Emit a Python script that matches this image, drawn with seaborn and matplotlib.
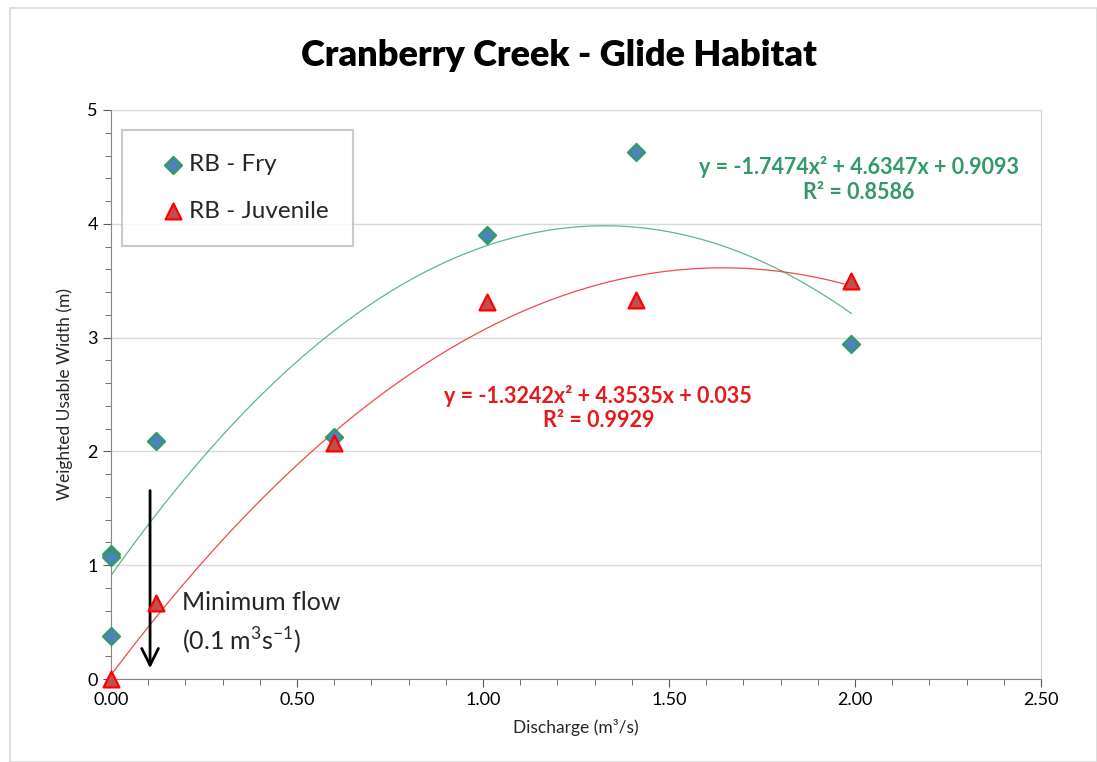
import numpy as np
import pandas as pd
import seaborn as sns
import matplotlib.pyplot as plt
from matplotlib.ticker import MultipleLocator

# data
fry_q = [0.00, 0.00, 0.00, 0.12, 0.60, 1.01, 1.41, 1.99]
fry_wuw = [1.10, 1.07, 0.38, 2.09, 2.13, 3.90, 4.63, 2.94]
juv_q = [0.00, 0.12, 0.60, 1.01, 1.41, 1.99]
juv_wuw = [0.00, 0.67, 2.07, 3.31, 3.33, 3.50]

# trendline coefficients as printed on the chart (a, b, c)
fry_coef = [-1.7474, 4.6347, 0.9093]
juv_coef = [-1.3242, 4.3535, 0.035]
fry_r2 = 0.8586
juv_r2 = 0.9929

sns.set_style("white")
plt.rcParams["font.family"] = ["Lato", "DejaVu Sans"]
plt.rcParams["mathtext.fontset"] = "custom"
plt.rcParams["mathtext.rm"] = "Lato"

green = "#339966"
red = "#E8171C"

fry = pd.DataFrame({"q": fry_q, "wuw": fry_wuw})
juv = pd.DataFrame({"q": juv_q, "wuw": juv_wuw})

xs = np.linspace(0, 1.99, 200)
fit = pd.DataFrame({
    "q": np.concatenate([xs, xs]),
    "wuw": np.concatenate([np.polyval(fry_coef, xs), np.polyval(juv_coef, xs)]),
    "series": ["fry"] * len(xs) + ["juv"] * len(xs),
})

fig = plt.figure(figsize=(10.97, 7.62), dpi=100)
ax = fig.add_axes([111 / 1097, 1 - 679 / 762, (1041 - 111) / 1097, (679 - 110) / 762])

sns.lineplot(data=fit, x="q", y="wuw", hue="series", palette={"fry": "#5DB88A", "juv": "#F04A4A"},
             linewidth=0.9, legend=False, ax=ax, zorder=2)
sns.scatterplot(data=fry, x="q", y="wuw", marker="D", s=75, color="#4F81BD",
                edgecolor=green, linewidth=1.6, label="RB - Fry", ax=ax, zorder=4)
sns.scatterplot(data=juv, x="q", y="wuw", marker="^", s=130, color="#C0504D",
                edgecolor="#FF0000", linewidth=1.6, label="RB - Juvenile", ax=ax, zorder=4)
for coll in ax.collections:
    coll.set_clip_on(False)

ax.set_xlim(0, 2.5)
ax.set_ylim(0, 5)
ax.xaxis.set_major_locator(MultipleLocator(0.5))
ax.xaxis.set_minor_locator(MultipleLocator(0.1))
ax.yaxis.set_major_locator(MultipleLocator(1))
ax.yaxis.set_minor_locator(MultipleLocator(0.2))
ax.set_xticklabels([f"{v:.2f}" for v in ax.get_xticks()])
ax.tick_params(axis="both", which="both", direction="out", colors="#595959", labelcolor="black", labelsize=13)
ax.tick_params(axis="both", which="major", length=6)
ax.tick_params(axis="both", which="minor", length=4)
ax.tick_params(axis="x", which="both", bottom=True)
ax.tick_params(axis="y", which="both", left=True)
ax.grid(axis="y", color="#D9D9D9", linewidth=1)
ax.set_axisbelow(True)
for side in ["left", "bottom"]:
    ax.spines[side].set_color("#868686")
ax.spines["right"].set_color("#D0D0D0")
ax.spines["top"].set_visible(False)

ax.set_xlabel("Discharge (m³/s)", fontsize=12.5, labelpad=8)
ax.set_ylabel("Weighted Usable Width (m)", fontsize=12.5, labelpad=10)
fig.text(559 / 1097, 1 - 55 / 762, "Cranberry Creek - Glide Habitat", ha="center", va="center",
         fontsize=26, fontweight="heavy", color="black")

leg = ax.legend(loc="upper left", bbox_to_anchor=(0.012, 0.965), fontsize=17.5, frameon=True,
                fancybox=False, edgecolor="#BFBFBF", borderpad=1.0, labelspacing=1.05,
                handletextpad=-0.45, borderaxespad=0, handlelength=2.2)
leg.get_frame().set_linewidth(1.5)

ax.text(2.01, 4.39, "y = -1.7474x² + 4.6347x + 0.9093\nR² = %.4f" % fry_r2,
        color=green, fontsize=15.5, fontweight="bold", ha="center", va="center", linespacing=1.2)
ax.text(1.31, 2.38, "y = -1.3242x² + 4.3535x + 0.035\nR² = %.4f" % juv_r2,
        color=red, fontsize=15.5, fontweight="bold", ha="center", va="center", linespacing=1.2)

ax.annotate("", xy=(0.105, 0.07), xytext=(0.105, 1.68),
            arrowprops=dict(arrowstyle="->", color="black", lw=2, mutation_scale=30))
ax.text(0.19, 0.49, "Minimum flow\n(0.1 m$^3$s$^{-1}$)", fontsize=18, ha="left", va="center",
        linespacing=1.45)

fig.patches.append(plt.Rectangle((10 / 1097, 0), 1 - 10 / 1097, 1 - 8 / 762, transform=fig.transFigure,
                                 fill=False, edgecolor="#D9D9D9", linewidth=1.2))
fig.savefig("out.png", dpi=100)
